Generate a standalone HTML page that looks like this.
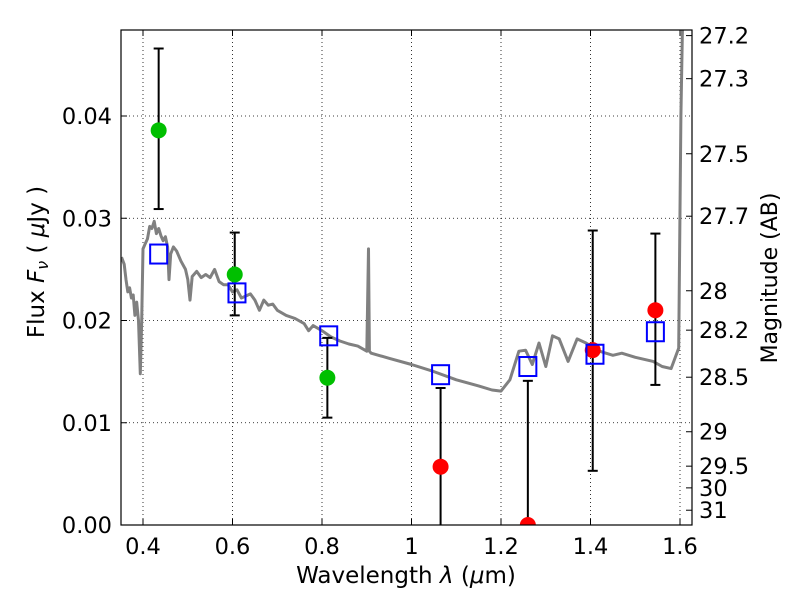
<!DOCTYPE html>
<html><head><meta charset="utf-8"><style>body{margin:0;background:#fff}svg{display:block;font-family:"DejaVu Sans","Liberation Sans",sans-serif}</style></head>
<body>
<svg id="chart" width="800" height="600" xmlns="http://www.w3.org/2000/svg"></svg>
<script>
const xTicks=[0.4,0.6,0.8,1.0,1.2,1.4,1.6];
const xTickLabels=["0.4","0.6","0.8","1","1.2","1.4","1.6"];
const yTicks=[0,0.01,0.02,0.03,0.04];
const yTickLabels=["0.00","0.01","0.02","0.03","0.04"];
const magTicks=[27.2,27.3,27.5,27.7,28,28.2,28.5,29,29.5,30,31];
const specWave=[0.352,0.358,0.362,0.366,0.370,0.374,0.378,0.382,0.386,0.390,0.394,0.397,0.400,0.405,0.41,0.415,0.42,0.425,0.43,0.435,0.44,0.445,0.45,0.455,0.458,0.462,0.468,0.475,0.485,0.495,0.50,0.505,0.51,0.52,0.53,0.54,0.55,0.56,0.57,0.58,0.59,0.60,0.61,0.62,0.63,0.64,0.65,0.66,0.67,0.68,0.69,0.70,0.72,0.74,0.76,0.77,0.78,0.80,0.82,0.84,0.86,0.88,0.90,0.904,0.906,0.91,0.95,1.0,1.05,1.1,1.15,1.18,1.20,1.22,1.24,1.255,1.27,1.285,1.30,1.315,1.33,1.35,1.37,1.39,1.42,1.45,1.47,1.50,1.54,1.56,1.58,1.597,1.602,1.606];
const specFlux=[0.0262,0.0255,0.0240,0.0228,0.0232,0.0222,0.0225,0.0205,0.0218,0.0200,0.0148,0.0200,0.0270,0.0275,0.0280,0.0292,0.0290,0.0297,0.0285,0.0290,0.0283,0.0278,0.0282,0.0272,0.0240,0.0265,0.0272,0.0268,0.0258,0.0250,0.0240,0.0220,0.0243,0.0248,0.0242,0.0245,0.0242,0.0250,0.0238,0.0235,0.0235,0.0228,0.0230,0.0222,0.0224,0.0226,0.0220,0.0210,0.0220,0.0215,0.0216,0.0210,0.0205,0.0202,0.0197,0.0190,0.0195,0.0190,0.0184,0.0180,0.0177,0.0175,0.0170,0.0270,0.0170,0.0168,0.0163,0.0157,0.0150,0.0142,0.0136,0.0132,0.0131,0.0142,0.0170,0.0171,0.0157,0.0178,0.0155,0.0185,0.0182,0.0160,0.0182,0.0178,0.0170,0.0166,0.0168,0.0164,0.0160,0.0155,0.0153,0.0173,0.0400,0.0500];
const obsWave=[0.435,0.605,0.812,1.065,1.26,1.405,1.545];
const obsFlux=[0.0386,0.0245,0.0144,0.0057,0.0,0.0171,0.021];
const obsLow=[0.0309,0.0205,0.0105,-0.002,-0.002,0.0053,0.0137];
const obsHigh=[0.0466,0.0286,0.0183,0.0134,0.0141,0.0288,0.0285];
const obsDetected=[true,true,true,false,false,false,false];
const modelWave=[0.435,0.61,0.815,1.065,1.26,1.41,1.545];
const modelFlux=[0.0265,0.0227,0.0185,0.0147,0.0155,0.0167,0.0189];

const L=121,R=692,T=30,B=525;
const xs=v=>143+(v-0.4)*447.5;
const ys=v=>525-v*10225;
const NS="http://www.w3.org/2000/svg";
const svg=document.getElementById('chart');
function mk(tag,at,parent){const e=document.createElementNS(NS,tag);for(const k in at)e.setAttribute(k,at[k]);(parent||svg).appendChild(e);return e;}
const defs=mk('defs',{});const cp=mk('clipPath',{id:'clip'},defs);mk('rect',{x:L,y:T,width:R-L,height:B-T},cp);

const grid=mk('g',{});


xTicks.forEach(v=>{mk('line',{x1:xs(v),x2:xs(v),y1:T,y2:B,stroke:'#000','stroke-width':0.8,'stroke-dasharray':'1,3'},grid);});
yTicks.forEach(v=>{mk('line',{x1:L,x2:R,y1:ys(v),y2:ys(v),stroke:'#000','stroke-width':0.8,'stroke-dasharray':'1,3'},grid);});

const plot=mk('g',{'clip-path':'url(#clip)'});
const sp=mk('path',{d:specWave.map((w,i)=>(i?'L':'M')+xs(w).toFixed(1)+','+ys(specFlux[i]).toFixed(1)).join(''),fill:'none',stroke:'#808080','stroke-width':3,'stroke-linejoin':'round'},plot);



obsWave.forEach((w,i)=>{
  const g=mk('g',{},plot);
  
  
  const x=xs(w);
  mk('line',{x1:x,x2:x,y1:ys(obsLow[i]),y2:ys(obsHigh[i]),stroke:'#000','stroke-width':2},g);
  mk('line',{x1:x-5,x2:x+5,y1:ys(obsHigh[i]),y2:ys(obsHigh[i]),stroke:'#000','stroke-width':2},g);
  if(obsLow[i]>0)mk('line',{x1:x-5,x2:x+5,y1:ys(obsLow[i]),y2:ys(obsLow[i]),stroke:'#000','stroke-width':2},g);
  mk('circle',{cx:x,cy:ys(obsFlux[i]),r:8,fill:obsDetected[i]?'#00bf00':'#ff0000'},g);
});
modelWave.forEach((w,i)=>{
  const r=mk('rect',{x:xs(w)-8.5,y:ys(modelFlux[i])-9.5,width:17,height:19,fill:'none',stroke:'#0000ff','stroke-width':2},plot);
  
  
});

const frame=mk('rect',{x:L,y:T,width:R-L,height:B-T,fill:'none',stroke:'#000','stroke-width':1.2});



xTicks.forEach((v,i)=>{
  mk('line',{x1:xs(v),x2:xs(v),y1:B,y2:B-6,stroke:'#000'});
  mk('line',{x1:xs(v),x2:xs(v),y1:T,y2:T+6,stroke:'#000'});
  const t=mk('text',{x:xs(v),y:B+29,'font-size':22.5,'text-anchor':'middle'});t.textContent=xTickLabels[i];
  
  
});
yTicks.forEach((v,i)=>{
  mk('line',{x1:L,x2:L+6,y1:ys(v),y2:ys(v),stroke:'#000'});
  const t=mk('text',{x:L-9,y:ys(v)+8,'font-size':22.5,'text-anchor':'end'});t.textContent=yTickLabels[i];
  
  
});
magTicks.forEach(m=>{
  const f=Math.pow(10,(23.9-m)/2.5);const y=ys(f);
  mk('line',{x1:R,x2:R-6,y1:y,y2:y,stroke:'#000'});
  const t=mk('text',{x:R+7,y:y+8,'font-size':22.5});t.textContent=String(m);
  
  
});

const xl=mk('text',{x:406,y:583,'font-size':23,'text-anchor':'middle','xml:space':'preserve'});
xl.innerHTML='Wavelength  <tspan font-style="italic">λ</tspan> (<tspan font-style="italic">μ</tspan>m)';


const yl=mk('text',{x:0,y:0,'font-size':23,'text-anchor':'middle','xml:space':'preserve',transform:'translate(44,262) rotate(-90)'});
yl.innerHTML='Flux  <tspan font-style="italic">F</tspan><tspan font-style="italic" font-size="16" dy="4">ν</tspan><tspan dy="-4">  ( </tspan><tspan font-style="italic">μ</tspan>Jy )';


const rl=mk('text',{x:0,y:0,'font-size':22,'text-anchor':'middle',transform:'translate(777,278) rotate(-90)'});
rl.textContent='Magnitude (AB)';


</script>
</body></html>
